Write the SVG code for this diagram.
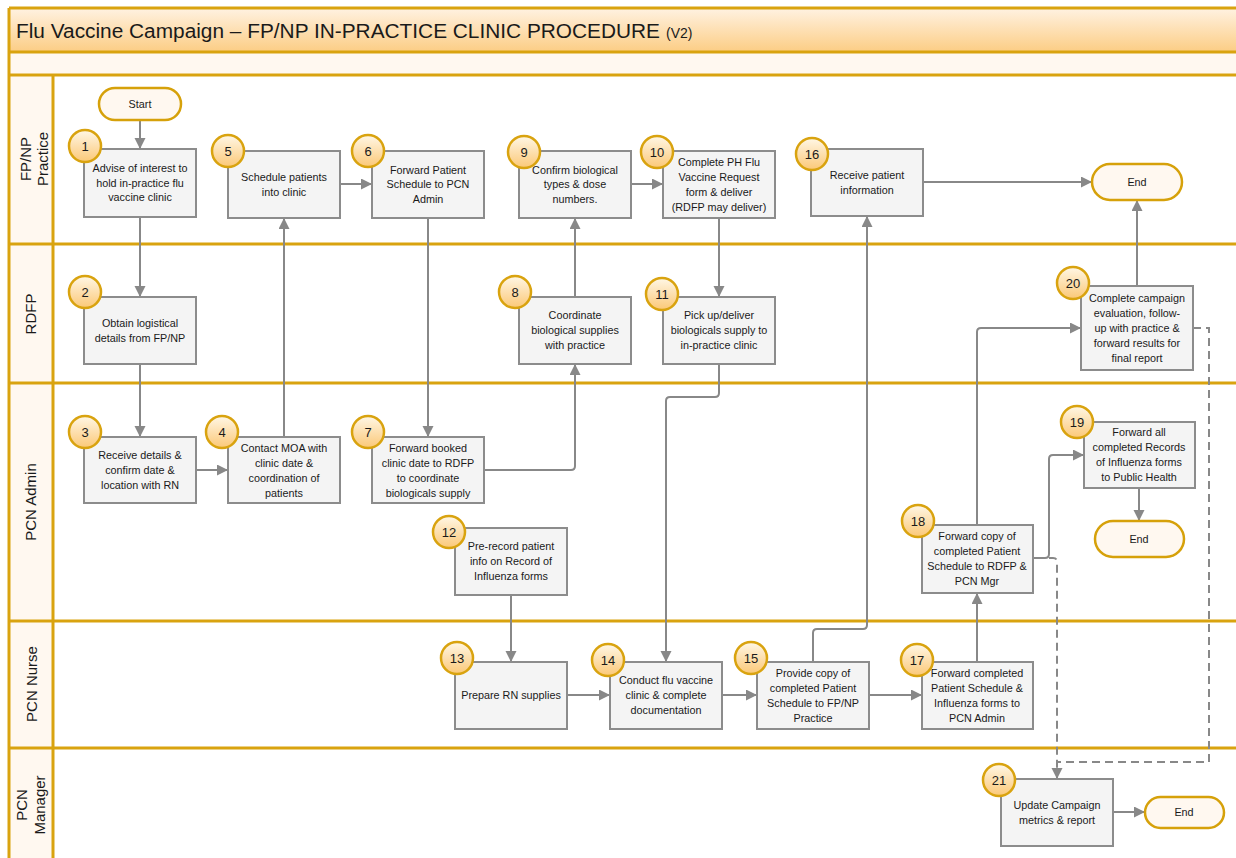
<svg xmlns="http://www.w3.org/2000/svg" width="1236" height="858" viewBox="0 0 1236 858">
<defs>
<linearGradient id="gt" x1="0" y1="0" x2="0" y2="1"><stop offset="0" stop-color="#fff2e2"/><stop offset="1" stop-color="#fccd84"/></linearGradient>
<linearGradient id="gc" x1="0" y1="0" x2="0" y2="1"><stop offset="0" stop-color="#fff7e6"/><stop offset="1" stop-color="#fbc877"/></linearGradient>
<marker id="a" markerUnits="userSpaceOnUse" markerWidth="12" markerHeight="12" refX="11" refY="5.5" orient="auto"><path d="M0,0 L11,5.5 L0,11 z" fill="#888"/></marker>
<style>
.box{fill:#f4f4f4;stroke:#8c8c8c;stroke-width:2}
.term{fill:#fff8f0;stroke:#d6a10a;stroke-width:2.5}
.num{fill:url(#gc);stroke:#d9a30f;stroke-width:2.5}
text{font-family:"Liberation Sans",Arial,sans-serif;fill:#1a1a1a}
.t{font-size:10.8px;text-anchor:middle}
.n{font-size:13px;text-anchor:middle}
.lane{font-size:15px;text-anchor:middle}
.gl{stroke:#d9a30f;stroke-width:3;fill:none}
.c{stroke:#888;stroke-width:2;fill:none;marker-end:url(#a)}
.cn{stroke:#888;stroke-width:2;fill:none}
.d{stroke-dasharray:8 5}
</style>
</defs>
<rect x="0" y="0" width="1236" height="858" fill="#fff"/>
<g id="frame">
<rect x="9" y="8" width="1240" height="44" fill="url(#gt)"/>
<rect x="9" y="52" width="1240" height="23" fill="#fff8f0"/>
<rect x="9" y="75" width="44" height="790" fill="#fff8f0"/>
<path class="gl" d="M9,8 H1240 M9,52 H1240 M9,75 H1240 M9,244 H1240 M9,383 H1240 M9,621 H1240 M9,748 H1240 M9,8 V860 M53,75 V860"/>
<text x="16" y="38" font-size="20px" textLength="644" lengthAdjust="spacingAndGlyphs">Flu Vaccine Campaign – FP/NP IN-PRACTICE CLINIC PROCEDURE</text>
<text x="666" y="38" font-size="14px">(V2)</text>
<text class="lane" transform="translate(31,159) rotate(-90)">FP/NP</text>
<text class="lane" transform="translate(48,159) rotate(-90)">Practice</text>
<text class="lane" transform="translate(36,314) rotate(-90)">RDFP</text>
<text class="lane" transform="translate(36,502) rotate(-90)">PCN Admin</text>
<text class="lane" transform="translate(37,684) rotate(-90)">PCN Nurse</text>
<text class="lane" transform="translate(27,805) rotate(-90)">PCN</text>
<text class="lane" transform="translate(45,805) rotate(-90)">Manager</text>
</g>
<g id="connectors">
<path class="c" d="M140,120 V149"/>
<path class="c" d="M140,217 V297"/>
<path class="c" d="M140,364 V437"/>
<path class="c" d="M184,470 H228"/>
<path class="c" d="M284,437 V218"/>
<path class="c" d="M340,184 H372"/>
<path class="c" d="M428,218 V437"/>
<path class="c" d="M484,470 H571 Q575,470 575,466 V364"/>
<path class="c" d="M575,297 V218"/>
<path class="c" d="M631,184 H663"/>
<path class="c" d="M719,218 V297"/>
<path class="c" d="M719,364 V393 Q719,397 715,397 H670 Q666,397 666,401 V662"/>
<path class="c" d="M511,595 V662"/>
<path class="c" d="M567,695 H610"/>
<path class="c" d="M722,695 H757"/>
<path class="c" d="M813,662 V633 Q813,629 817,629 H863 Q867,629 867,625 V216"/>
<path class="c" d="M869,695 H922"/>
<path class="c" d="M977,662 V593"/>
<path class="c" d="M977,525 V332 Q977,328 981,328 H1081"/>
<path class="c d" d="M1049,558 H1053 Q1057,558 1057,562 V779"/>
<path class="c" d="M1033,558 H1045 Q1049,558 1049,554 V459 Q1049,455 1053,455 H1084"/>
<path class="cn d" d="M1193,328 H1209 V762 H1057"/>
<path class="c" d="M1139,488 V521"/>
<path class="c" d="M1137,286 V200"/>
<path class="c" d="M1113,812 H1145"/>
<path class="c" d="M923,182 H1092"/>
</g>
<g id="start"><rect class="term" x="99" y="88" width="82" height="32" rx="16"/><text class="t" x="140" y="108">Start</text></g>
<g id="end1"><rect class="term" x="1092" y="164" width="90" height="36" rx="18"/><text class="t" x="1137" y="186">End</text></g>
<g id="end2"><rect class="term" x="1095" y="521" width="89" height="36" rx="18"/><text class="t" x="1139" y="543">End</text></g>
<g id="end3"><rect class="term" x="1145" y="797" width="79" height="31" rx="15.5"/><text class="t" x="1184" y="816">End</text></g>
<g id="n1"><rect class="box" x="84" y="149" width="112" height="68"/><text class="t" x="140" y="172">Advise of interest to</text><text class="t" x="140" y="187">hold in-practice flu</text><text class="t" x="140" y="201">vaccine clinic</text><circle class="num" cx="85" cy="146" r="16"/><text class="n" x="85" y="151">1</text></g>
<g id="n2"><rect class="box" x="84" y="297" width="112" height="67"/><text class="t" x="140" y="327">Obtain logistical</text><text class="t" x="140" y="342">details from FP/NP</text><circle class="num" cx="85" cy="292" r="16"/><text class="n" x="85" y="297">2</text></g>
<g id="n3"><rect class="box" x="84" y="437" width="112" height="66"/><text class="t" x="140" y="459">Receive details &amp;</text><text class="t" x="140" y="474">confirm date &amp;</text><text class="t" x="140" y="489">location with RN</text><circle class="num" cx="85" cy="432" r="16"/><text class="n" x="85" y="437">3</text></g>
<g id="n4"><rect class="box" x="228" y="437" width="112" height="66"/><text class="t" x="284" y="452">Contact MOA with</text><text class="t" x="284" y="467">clinic date &amp;</text><text class="t" x="284" y="482">coordination of</text><text class="t" x="284" y="497">patients</text><circle class="num" cx="222" cy="432" r="16"/><text class="n" x="222" y="437">4</text></g>
<g id="n5"><rect class="box" x="228" y="151" width="112" height="67"/><text class="t" x="284" y="181">Schedule patients</text><text class="t" x="284" y="196">into clinic</text><circle class="num" cx="228" cy="151" r="16"/><text class="n" x="228" y="156">5</text></g>
<g id="n6"><rect class="box" x="372" y="151" width="112" height="67"/><text class="t" x="428" y="174">Forward Patient</text><text class="t" x="428" y="188">Schedule to PCN</text><text class="t" x="428" y="203">Admin</text><circle class="num" cx="368" cy="151" r="16"/><text class="n" x="368" y="156">6</text></g>
<g id="n7"><rect class="box" x="372" y="437" width="112" height="66"/><text class="t" x="428" y="452">Forward booked</text><text class="t" x="428" y="467">clinic date to RDFP</text><text class="t" x="428" y="482">to coordinate</text><text class="t" x="428" y="497">biologicals supply</text><circle class="num" cx="368" cy="432" r="16"/><text class="n" x="368" y="437">7</text></g>
<g id="n8"><rect class="box" x="519" y="297" width="112" height="67"/><text class="t" x="575" y="319">Coordinate</text><text class="t" x="575" y="334">biological supplies</text><text class="t" x="575" y="349">with practice</text><circle class="num" cx="515" cy="292" r="16"/><text class="n" x="515" y="297">8</text></g>
<g id="n9"><rect class="box" x="519" y="151" width="112" height="67"/><text class="t" x="575" y="174">Confirm biological</text><text class="t" x="575" y="188">types &amp; dose</text><text class="t" x="575" y="203">numbers.</text><circle class="num" cx="524" cy="152" r="16"/><text class="n" x="524" y="157">9</text></g>
<g id="n10"><rect class="box" x="663" y="151" width="112" height="67"/><text class="t" x="719" y="166">Complete PH Flu</text><text class="t" x="719" y="181">Vaccine Request</text><text class="t" x="719" y="196">form &amp; deliver</text><text class="t" x="719" y="211">(RDFP may deliver)</text><circle class="num" cx="657" cy="152" r="16"/><text class="n" x="657" y="157">10</text></g>
<g id="n11"><rect class="box" x="663" y="297" width="112" height="67"/><text class="t" x="719" y="319">Pick up/deliver</text><text class="t" x="719" y="334">biologicals supply to</text><text class="t" x="719" y="349">in-practice clinic</text><circle class="num" cx="662" cy="294" r="16"/><text class="n" x="662" y="299">11</text></g>
<g id="n12"><rect class="box" x="455" y="528" width="112" height="67"/><text class="t" x="511" y="550">Pre-record patient</text><text class="t" x="511" y="565">info on Record of</text><text class="t" x="511" y="580">Influenza forms</text><circle class="num" cx="449" cy="532" r="16"/><text class="n" x="449" y="537">12</text></g>
<g id="n13"><rect class="box" x="455" y="662" width="112" height="67"/><text class="t" x="511" y="699">Prepare RN supplies</text><circle class="num" cx="457" cy="658" r="16"/><text class="n" x="457" y="663">13</text></g>
<g id="n14"><rect class="box" x="610" y="662" width="112" height="67"/><text class="t" x="666" y="684">Conduct flu vaccine</text><text class="t" x="666" y="699">clinic &amp; complete</text><text class="t" x="666" y="714">documentation</text><circle class="num" cx="608" cy="660" r="16"/><text class="n" x="608" y="665">14</text></g>
<g id="n15"><rect class="box" x="757" y="662" width="112" height="67"/><text class="t" x="813" y="677">Provide copy of</text><text class="t" x="813" y="692">completed Patient</text><text class="t" x="813" y="707">Schedule to FP/NP</text><text class="t" x="813" y="722">Practice</text><circle class="num" cx="751" cy="658" r="16"/><text class="n" x="751" y="663">15</text></g>
<g id="n16"><rect class="box" x="811" y="149" width="112" height="67"/><text class="t" x="867" y="179">Receive patient</text><text class="t" x="867" y="194">information</text><circle class="num" cx="812" cy="154" r="16"/><text class="n" x="812" y="159">16</text></g>
<g id="n17"><rect class="box" x="922" y="662" width="111" height="67"/><text class="t" x="977" y="677">Forward completed</text><text class="t" x="977" y="692">Patient Schedule &amp;</text><text class="t" x="977" y="707">Influenza forms to</text><text class="t" x="977" y="722">PCN Admin</text><circle class="num" cx="917" cy="660" r="16"/><text class="n" x="917" y="665">17</text></g>
<g id="n18"><rect class="box" x="922" y="525" width="111" height="68"/><text class="t" x="977" y="540">Forward copy of</text><text class="t" x="977" y="555">completed Patient</text><text class="t" x="977" y="570">Schedule to RDFP &amp;</text><text class="t" x="977" y="585">PCN Mgr</text><circle class="num" cx="918" cy="521" r="16"/><text class="n" x="918" y="526">18</text></g>
<g id="n19"><rect class="box" x="1084" y="422" width="111" height="66"/><text class="t" x="1139" y="436">Forward all</text><text class="t" x="1139" y="451">completed Records</text><text class="t" x="1139" y="466">of Influenza forms</text><text class="t" x="1139" y="481">to Public Health</text><circle class="num" cx="1077" cy="422" r="16"/><text class="n" x="1077" y="427">19</text></g>
<g id="n20"><rect class="box" x="1081" y="286" width="112" height="84"/><text class="t" x="1137" y="302">Complete campaign</text><text class="t" x="1137" y="317">evaluation, follow-</text><text class="t" x="1137" y="332">up with practice &amp;</text><text class="t" x="1137" y="347">forward results for</text><text class="t" x="1137" y="362">final report</text><circle class="num" cx="1073" cy="283" r="16"/><text class="n" x="1073" y="288">20</text></g>
<g id="n21"><rect class="box" x="1001" y="779" width="112" height="67"/><text class="t" x="1057" y="809">Update Campaign</text><text class="t" x="1057" y="824">metrics &amp; report</text><circle class="num" cx="999" cy="780" r="16"/><text class="n" x="999" y="785">21</text></g>
</svg>
